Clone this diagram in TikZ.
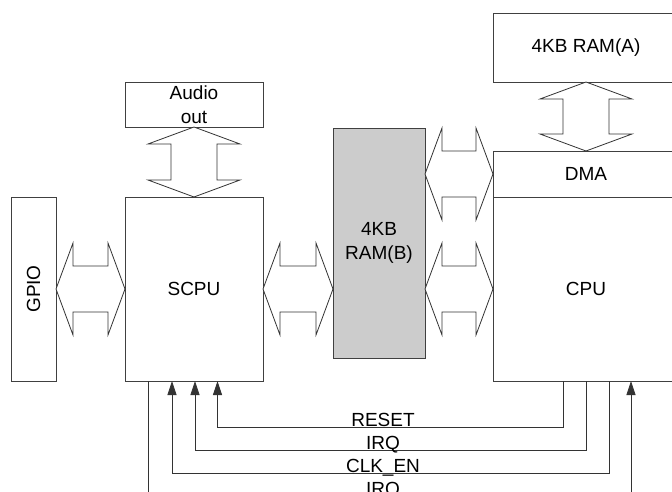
\documentclass[tikz,border=0pt]{standalone}
\usepackage{fontspec}
\setmainfont{Liberation Sans}
\usetikzlibrary{calc,arrows.meta}
\newcommand\mybush[2]{%
  \draw[bus] (#1) -- ($(#1)+(17,-46)$) -- ($(#1)+(17,-23)$) -- ($(#2)+(-17,-23)$)
    -- ($(#2)+(-17,-46)$) -- (#2) -- ($(#2)+(-17,46)$) -- ($(#2)+(-17,23)$)
    -- ($(#1)+(17,23)$) -- ($(#1)+(17,46)$) -- cycle;}
\newcommand\mybusv[2]{%
  \draw[bus] (#1) -- ($(#1)+(-46,17)$) -- ($(#1)+(-23,17)$) -- ($(#2)+(-23,-17)$)
    -- ($(#2)+(-46,-17)$) -- (#2) -- ($(#2)+(46,-17)$) -- ($(#2)+(23,-17)$)
    -- ($(#1)+(23,17)$) -- ($(#1)+(46,17)$) -- cycle;}
\begin{document}
\begin{tikzpicture}[x=1pt,y=-1pt,
  font=\fontsize{19}{23.5}\selectfont,
  box/.style={draw=black!75, line width=0.9pt, inner sep=0pt, outer sep=0pt, align=center},
  bus/.style={draw=black!80, line width=0.8pt, fill=white, line join=miter},
  sig/.style={draw=black!80, line width=0.8pt},
  sigarr/.style={sig, -{Triangle[length=14pt,width=9pt]}},
  lbl/.style={anchor=base, inner sep=0pt}]
\useasboundingbox (0,0) rectangle (672,492);
\fill[white] (0,0) rectangle (672,492);
\clip (0,0) rectangle (672,492);

% boxes
\node[box, minimum width=138pt, minimum height=45pt] (audio) at (194,104.5) {Audio\\out};
\node[box, minimum width=138pt, minimum height=184pt] (scpu) at (194,289) {SCPU};
\node[box, minimum width=45pt, minimum height=184pt] (gpio) at (33.5,289) {};
\node[rotate=90] (gpiolbl) at (gpio.center) {GPIO};
\node[box, fill=black!20, minimum width=92pt, minimum height=230pt] (ramb) at (379,243) {4KB\\RAM(B)};
\node[box, minimum width=186pt, minimum height=69pt] (rama) at (586,47.5) {4KB RAM(A)};
\node[box, minimum width=186pt, minimum height=46pt] (dma) at (586,174) {DMA};
\node[box, minimum width=186pt, minimum height=184pt] (cpu) at (586,289) {CPU};

% buses
\coordinate (b2r) at (ramb.west |- scpu.east);
\coordinate (b3l) at (ramb.east |- dma.west);
\coordinate (b4l) at (ramb.east |- cpu.west);
\mybusv{audio.south}{scpu.north}
\mybusv{rama.south}{dma.north}
\mybush{gpio.east}{scpu.west}
\mybush{scpu.east}{b2r}
\mybush{b3l}{dma.west}
\mybush{b4l}{cpu.west}

% signal end points
\coordinate (s0) at ($(scpu.south west)+(23,0)$);
\coordinate (s1) at ($(scpu.south west)+(47,0)$);
\coordinate (s2) at ($(scpu.south west)+(70,0)$);
\coordinate (s3) at ($(scpu.south west)+(92.5,0)$);
\coordinate (c0) at ($(cpu.south west)+(70,0)$);
\coordinate (c1) at ($(cpu.south west)+(93,0)$);
\coordinate (c2) at ($(cpu.south west)+(116,0)$);
\coordinate (c3) at ($(cpu.south west)+(138,0)$);

\draw[sigarr] (c0) -- ++(0,46) -| (s3);
\draw[sigarr] (c1) -- ++(0,69) -| (s2);
\draw[sigarr] (c2) -- ++(0,92) -| (s1);
\draw[sigarr] (s0) -- ++(0,115) -| (c3);

\node[lbl] (lreset) at (383,426.3) {RESET};
\node[lbl] (lirq1) at (383,449.3) {IRQ};
\node[lbl] (lclk) at (383,472.3) {CLK\_EN};
\node[lbl] (lirq2) at (383,495.3) {IRQ};
\end{tikzpicture}
\end{document}
